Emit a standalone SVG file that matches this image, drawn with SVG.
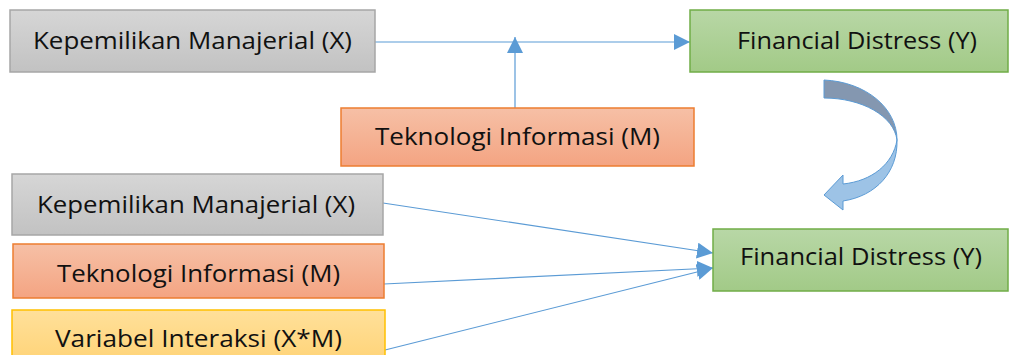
<svg xmlns="http://www.w3.org/2000/svg" width="1010" height="355" viewBox="0 0 1010 355">
<style>
.t{font-family:"Open Sans","Noto Sans","Liberation Sans",sans-serif;font-size:23px;fill:#111;}
.c{stroke:#5b9bd5;stroke-width:1.2;fill:none;}
.gray{fill:url(#gGray);stroke:#a6a6a6;stroke-width:1.5;}
.green{fill:url(#gGreen);stroke:#70ad47;stroke-width:1.5;}
.orange{fill:url(#gOrange);stroke:#ed7d31;stroke-width:1.5;}
.yellow{fill:url(#gYellow);stroke:#ffc000;stroke-width:1.5;}
</style>
<defs>
<linearGradient id="gGray" x1="0" y1="0" x2="0" y2="1"><stop offset="0" stop-color="#d6d6d6"/><stop offset="1" stop-color="#c2c2c2"/></linearGradient>
<linearGradient id="gGreen" x1="0" y1="0" x2="0" y2="1"><stop offset="0" stop-color="#b8d7a6"/><stop offset="1" stop-color="#a2ca87"/></linearGradient>
<linearGradient id="gOrange" x1="0" y1="0" x2="0" y2="1"><stop offset="0" stop-color="#f6c0a6"/><stop offset="1" stop-color="#f4a482"/></linearGradient>
<linearGradient id="gYellow" x1="0" y1="0" x2="0" y2="1"><stop offset="0" stop-color="#ffe09a"/><stop offset="1" stop-color="#ffd479"/></linearGradient>
<marker id="ah" viewBox="0 0 16 16" refX="16" refY="8" markerWidth="16" markerHeight="16" markerUnits="userSpaceOnUse" orient="auto">
<path d="M0,0 L16,8 L0,16 Z" fill="#5b9bd5"/>
</marker>
</defs>
<g id="connectors">
<line class="c" x1="375" y1="42" x2="690" y2="42" marker-end="url(#ah)"/>
<line class="c" x1="515" y1="108" x2="515" y2="37" marker-end="url(#ah)"/>
<line class="c" x1="383" y1="203" x2="713" y2="253" marker-end="url(#ah)"/>
<line class="c" x1="384" y1="284" x2="713" y2="268" marker-end="url(#ah)"/>
<line class="c" x1="385" y1="350" x2="713" y2="268" marker-end="url(#ah)"/>
<g id="curved-arrow" stroke="#5b9bd5" stroke-width="1">
<path d="M824,80 C866,82 897,108 897,140 C894,116 862,98 824,98 Z" fill="#8497b0"/>
<path d="M897,140 C893,164 872,181 843,184 L843,175 L824,195 L843,210 L843,201 C876,196 898,172 897,140 Z" fill="#9dc3e6"/>
</g>
</g>
<g id="node-x-top">
<rect class="gray" x="10" y="10" width="365" height="62"/>
<text class="t" x="33" y="49" textLength="319" lengthAdjust="spacingAndGlyphs">Kepemilikan Manajerial (X)</text>
</g>
<g id="node-y-top">
<rect class="green" x="690" y="10" width="318" height="62"/>
<text class="t" x="737" y="49" textLength="240" lengthAdjust="spacingAndGlyphs">Financial Distress (Y)</text>
</g>
<g id="node-m-top">
<rect class="orange" x="341" y="108" width="353" height="58"/>
<text class="t" x="375" y="145" textLength="285" lengthAdjust="spacingAndGlyphs">Teknologi Informasi (M)</text>
</g>
<g id="node-x-bottom">
<rect class="gray" x="12" y="174" width="371" height="61"/>
<text class="t" x="37" y="213" textLength="318" lengthAdjust="spacingAndGlyphs">Kepemilikan Manajerial (X)</text>
</g>
<g id="node-m-bottom">
<rect class="orange" x="13" y="244" width="371" height="54"/>
<text class="t" x="57" y="282" textLength="283" lengthAdjust="spacingAndGlyphs">Teknologi Informasi (M)</text>
</g>
<g id="node-xm-bottom">
<rect class="yellow" x="12" y="310" width="373" height="50"/>
<text class="t" x="55" y="347" textLength="287" lengthAdjust="spacingAndGlyphs">Variabel Interaksi (X*M)</text>
</g>
<g id="node-y-bottom">
<rect class="green" x="713" y="229" width="295" height="62"/>
<text class="t" x="740" y="265" textLength="242" lengthAdjust="spacingAndGlyphs">Financial Distress (Y)</text>
</g>
</svg>
